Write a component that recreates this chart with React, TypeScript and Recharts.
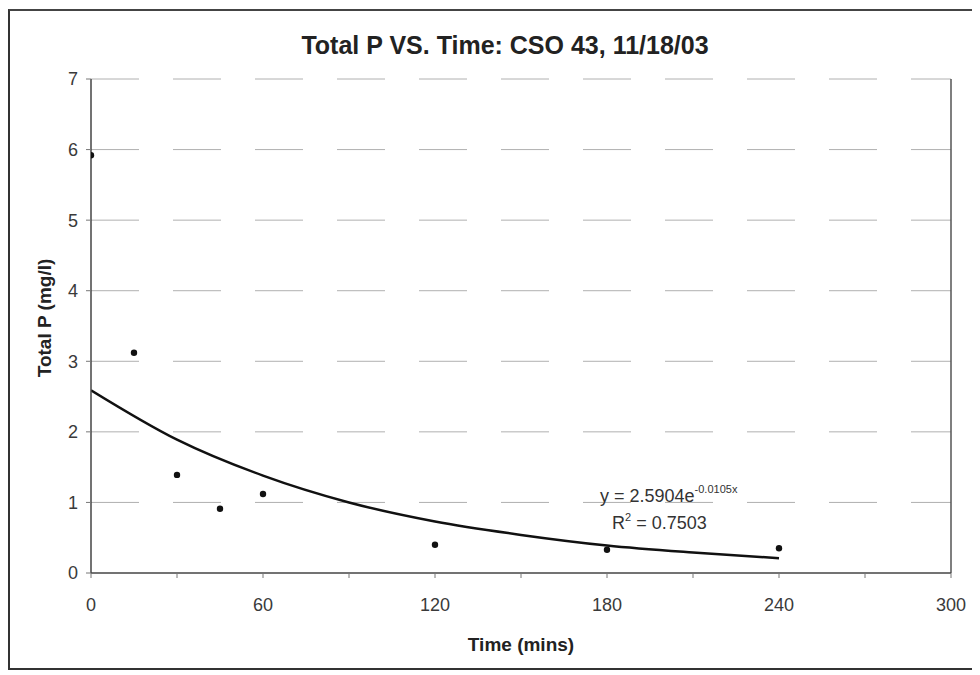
import React from 'react';
import { ComposedChart, Line, Scatter, XAxis, YAxis, CartesianGrid, ReferenceLine } from 'recharts';

const timeMins = [0, 15, 30, 45, 60, 120, 180, 240];
const totalP = [5.92, 3.12, 1.39, 0.91, 1.12, 0.40, 0.33, 0.35];

const trendTime = [0, 30, 60, 90, 120, 150, 180, 210, 240];
const trendP = [2.59, 1.89, 1.38, 1.0, 0.73, 0.54, 0.39, 0.29, 0.21];

const xTicks = [0, 30, 60, 90, 120, 150, 180, 210, 240, 270, 300];
const xLabelTicks = [0, 60, 120, 180, 240, 300];
const yTicks = [0, 1, 2, 3, 4, 5, 6, 7];

const title = 'Total P VS. Time: CSO 43, 11/18/03';
const xTitle = 'Time (mins)';
const yTitle = 'Total P (mg/l)';
const eqMain = 'y = 2.5904e';
const eqExp = '-0.0105x';
const r2Value = ' = 0.7503';

const points = timeMins.map((x, i) => ({ x, y: totalP[i] }));
const trend = trendTime.map((x, i) => ({ x, y: trendP[i] }));

const FONT = '"Liberation Sans", Arial, sans-serif';

const Dot = (props: any) => {
  const { cx, cy } = props;
  if (cx == null || cy == null) return null;
  return <circle cx={cx} cy={cy} r={3.2} fill="#111" />;
};

export default function App() {
  return (
    <div style={{ position: 'relative', width: 972, height: 667, overflow: 'hidden', fontFamily: FONT, background: '#fff' }}>
      <div style={{ position: 'absolute', left: 0, top: 1, width: 1000, height: 661, borderLeft: '2px solid #333', borderTop: '2px solid #444', borderBottom: '2px solid #333', boxSizing: 'border-box' }} />
      <ComposedChart
        width={972}
        height={667}
        margin={{ top: 71, right: 29, left: 0, bottom: 0 }}
        style={{ position: 'absolute', left: 0, top: 0 }}
      >
        <CartesianGrid
          vertical={false}
          horizontalValues={[1, 2, 3, 4, 5, 6, 7]}
          stroke="#b0b0b0"
          strokeDasharray="48 34"
        />
        <XAxis
          type="number"
          dataKey="x"
          domain={[0, 300]}
          ticks={xTicks}
          interval={0}
          allowDataOverflow
          height={102}
          tickSize={5}
          tickMargin={20}
          tickFormatter={(v: number) => (xLabelTicks.includes(v) ? String(v) : '')}
          tick={{ fontSize: 18, fill: '#3a3a3a', fontFamily: FONT }}
          axisLine={{ stroke: '#444', strokeWidth: 1.5 }}
          tickLine={{ stroke: '#777' }}
        />
        <YAxis
          type="number"
          dataKey="y"
          domain={[0, 7]}
          ticks={yTicks}
          interval={0}
          allowDataOverflow
          width={83}
          tickSize={5}
          tickMargin={8}
          tick={{ fontSize: 18, fill: '#3a3a3a', fontFamily: FONT }}
          axisLine={{ stroke: '#444', strokeWidth: 1.5 }}
          tickLine={{ stroke: '#777' }}
        />
        <ReferenceLine x={300} stroke="#555" strokeWidth={1.5} />
        <Line
          data={trend}
          dataKey="y"
          type="monotone"
          stroke="#111"
          strokeWidth={2.5}
          dot={false}
          activeDot={false}
          isAnimationActive={false}
        />
        <Scatter data={points} dataKey="y" shape={Dot} isAnimationActive={false} />
      </ComposedChart>
      <div style={{ position: 'absolute', left: 497, top: 25, transform: 'translateX(-50%)', fontSize: 25, lineHeight: 1, fontWeight: 'bold', color: '#222', whiteSpace: 'nowrap' }}>
        {title}
      </div>
      <div style={{ position: 'absolute', left: 513, top: 627, transform: 'translateX(-50%)', fontSize: 19, lineHeight: 1, fontWeight: 'bold', color: '#222', whiteSpace: 'nowrap' }}>
        {xTitle}
      </div>
      <div style={{ position: 'absolute', left: 36, top: 310, transform: 'translate(-50%, -50%) rotate(-90deg)', fontSize: 19, lineHeight: 1, fontWeight: 'bold', color: '#222', whiteSpace: 'nowrap' }}>
        {yTitle}
      </div>
      <div style={{ position: 'absolute', left: 592, top: 479, fontSize: 18, lineHeight: 1, color: '#333', whiteSpace: 'nowrap' }}>
        {eqMain}
        <span style={{ fontSize: 11, position: 'relative', top: -9 }}>{eqExp}</span>
      </div>
      <div style={{ position: 'absolute', left: 604, top: 506, fontSize: 18, lineHeight: 1, color: '#333', whiteSpace: 'nowrap' }}>
        R<span style={{ fontSize: 11, position: 'relative', top: -8 }}>2</span>
        {r2Value}
      </div>
    </div>
  );
}
